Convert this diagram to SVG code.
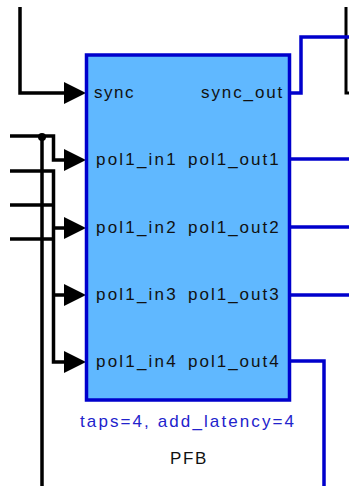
<svg xmlns="http://www.w3.org/2000/svg" width="349" height="486" viewBox="0 0 349 486">
<style>
.k{fill:none;stroke:#000;stroke-width:3.500}
.b{fill:none;stroke:#0000cc;stroke-width:3.500}
text{font-family:"Liberation Sans",Arial,sans-serif;font-size:17px;fill:#111;letter-spacing:2px}
</style>
<defs><polygon id="a" points="0,-11 22,0 0,11" fill="#000"/></defs>
<rect width="349" height="486" fill="#fff"/>
<g id="connectors">
<path class="k" d="M20 7V93H66"/>
<path class="k" d="M10 136H53.500V160H66"/>
<path class="k" d="M42 136V486"/>
<circle cx="42" cy="137" r="4" fill="#000"/>
<path class="k" d="M10 171H53.500V362H66"/>
<path class="k" d="M10 205H53.500"/>
<path class="k" d="M10 239H53.500"/>
<path class="k" d="M53.500 228H66"/>
<path class="k" d="M53.500 295H66"/>
<use href="#a" x="64" y="93"/>
<use href="#a" x="64" y="160"/>
<use href="#a" x="64" y="228"/>
<use href="#a" x="64" y="295"/>
<use href="#a" x="64" y="362"/>
<path class="k" d="M346 7V93H349" style="stroke-width:3"/>
<path class="b" d="M290 93H301V37H349"/>
<path class="b" d="M290 159H349"/>
<path class="b" d="M290 227H349"/>
<path class="b" d="M290 295H349"/>
<path class="b" d="M290 361H324V486"/>
</g>
<g id="PFB">
<rect x="86.500" y="55" width="203" height="345" fill="#60b8ff" stroke="#0000cc" stroke-width="3.500"/>
<text x="94" y="98" style="letter-spacing:1.500px">sync</text>
<text x="96" y="165" style="letter-spacing:2.200px">pol1_in1</text>
<text x="96" y="233" style="letter-spacing:2.200px">pol1_in2</text>
<text x="96" y="300" style="letter-spacing:2.200px">pol1_in3</text>
<text x="96" y="367" style="letter-spacing:2.200px">pol1_in4</text>
<text x="201" y="98" style="letter-spacing:1.900px">sync_out</text>
<text x="188" y="165">pol1_out1</text>
<text x="188" y="233">pol1_out2</text>
<text x="188" y="300">pol1_out3</text>
<text x="188" y="367">pol1_out4</text>
<text x="80" y="427" style="fill:#2222cc;letter-spacing:2.100px">taps=4, add_latency=4</text>
<text x="170" y="464" style="letter-spacing:1.700px">PFB</text>
</g>
</svg>
